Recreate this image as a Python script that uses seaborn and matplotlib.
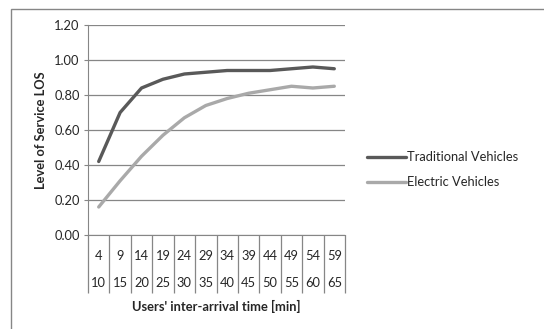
import numpy as np
import pandas as pd
import seaborn as sns
import matplotlib.pyplot as plt
from matplotlib.patches import Rectangle

# datos
lower_bound = [4, 9, 14, 19, 24, 29, 34, 39, 44, 49, 54, 59]
upper_bound = [10, 15, 20, 25, 30, 35, 40, 45, 50, 55, 60, 65]
traditional = [0.42, 0.70, 0.84, 0.89, 0.92, 0.93, 0.94, 0.94, 0.94, 0.95, 0.96, 0.95]
electric = [0.16, 0.31, 0.45, 0.57, 0.67, 0.74, 0.78, 0.81, 0.83, 0.85, 0.84, 0.85]
series_names = ["Traditional Vehicles", "Electric Vehicles"]
colors = ["#595959", "#a9a9a9"]

pos = np.arange(len(lower_bound))
df = pd.concat([
    pd.DataFrame({"pos": pos, "LOS": traditional, "serie": series_names[0]}),
    pd.DataFrame({"pos": pos, "LOS": electric, "serie": series_names[1]}),
])

sns.set_style("white")
plt.rcParams["font.family"] = ["Lato", "DejaVu Sans"]
grid_col = "#868686"
fs = 9.3

fig = plt.figure(figsize=(5.44, 3.29), dpi=100)
ax = fig.add_axes([88 / 544, 1 - 235 / 329, 257 / 544, 210 / 329])

# marco exterior del grafico
fig.patches.append(Rectangle((11 / 544, -0.1), 1.2, 1.1 - 9 / 329, transform=fig.transFigure,
                             fill=False, edgecolor=grid_col, linewidth=1))

sns.lineplot(data=df, x="pos", y="LOS", hue="serie", palette=colors,
             linewidth=2.4, ax=ax, legend=True)

ax.set_ylim(0, 1.2)
ax.set_yticks(np.arange(0, 1.21, 0.2))
ax.set_yticklabels([f"{v:.2f}" for v in np.arange(0, 1.21, 0.2)], fontsize=fs)
ax.yaxis.grid(True, color=grid_col, linewidth=0.9)
ax.tick_params(axis="y", which="major", length=3, color=grid_col, direction="out", pad=3, left=True)

ax.set_xlim(-0.5, len(lower_bound) - 0.5)
ax.set_xticks(np.arange(len(lower_bound) + 1) - 0.5)
ax.set_xticklabels([])
ax.tick_params(axis="x", which="major", length=42, color=grid_col, width=0.9, bottom=True)
ax.set_xticks(pos, minor=True)
ax.set_xticklabels([f"{a}\n\n{b}" for a, b in zip(lower_bound, upper_bound)], minor=True,
                   fontsize=fs, linespacing=1.15)
ax.tick_params(axis="x", which="minor", length=0, pad=11)

for s in ["top", "right"]:
    ax.spines[s].set_visible(False)
ax.spines["left"].set_color(grid_col)
ax.spines["bottom"].set_color(grid_col)

ax.set_xlabel("Users' inter-arrival time [min]", fontsize=fs, fontweight="bold", labelpad=1)
ax.set_ylabel("Level of Service LOS", fontsize=fs, fontweight="bold", labelpad=5)

ax.legend(loc="center left", bbox_to_anchor=(1.04, 0.31), frameon=False, fontsize=fs,
          handlelength=3.0, handletextpad=0.1, labelspacing=1.0)
for line in ax.get_legend().get_lines():
    line.set_linewidth(2.4)

fig.savefig("out.png", dpi=100)
